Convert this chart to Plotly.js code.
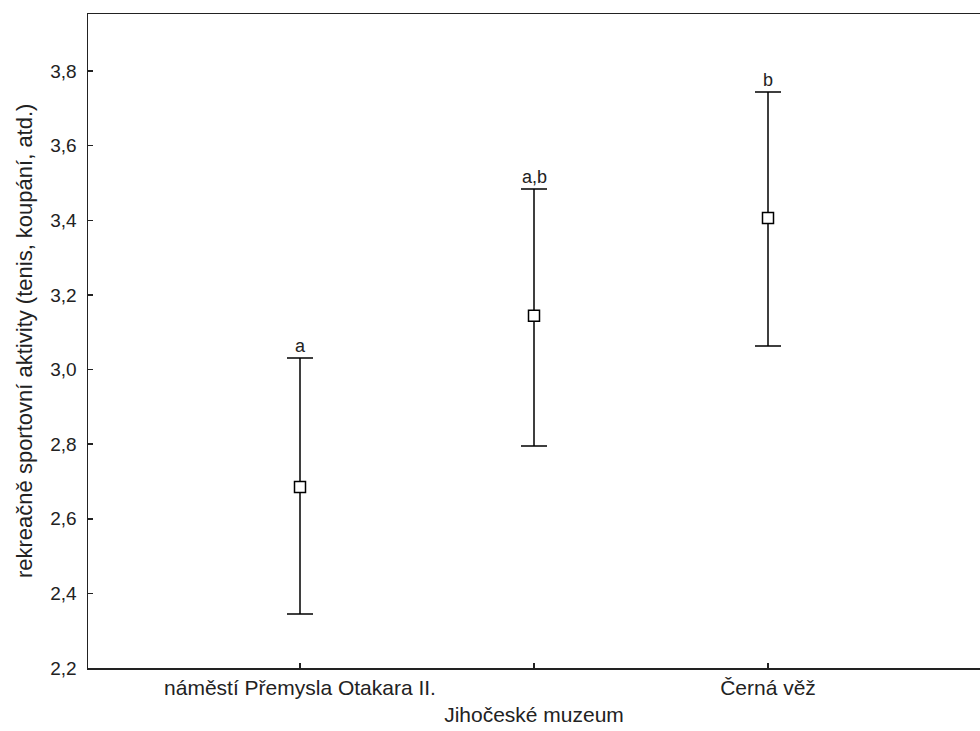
<!DOCTYPE html>
<html>
<head>
<meta charset="utf-8">
<script src="https://cdn.plot.ly/plotly-3.0.1.min.js"></script>
<style>html,body{margin:0;padding:0;background:#fff;}#chart{width:980px;height:731px;}</style>
</head>
<body>
<div id="chart"></div>
<script>
const categories = ['náměstí Přemysla Otakara II.', 'Jihočeské muzeum', 'Černá věž'];
const tickLabels = ['náměstí Přemysla Otakara II.', '<br>Jihočeské muzeum', 'Černá věž'];
const means = [2.685, 3.144, 3.406];
const upper = [3.031, 3.484, 3.744];
const lower = [2.345, 2.795, 3.063];
const letters = ['a', 'a,b', 'b'];
const yTicks = [2.2, 2.4, 2.6, 2.8, 3.0, 3.2, 3.4, 3.6, 3.8];
const yTitle = 'rekreačně sportovní aktivity (tenis, koupání, atd.)';

const xPos = categories.map((c, i) => i);
const font = 'Liberation Sans, Arial, sans-serif';

const trace = {
  type: 'scatter',
  mode: 'markers',
  x: xPos,
  y: means,
  marker: {symbol: 'square', size: 11, color: '#ffffff', line: {color: '#000000', width: 1.5}},
  error_y: {
    type: 'data', symmetric: false,
    array: upper.map((u, i) => u - means[i]),
    arrayminus: lower.map((l, i) => means[i] - l),
    color: '#000000', thickness: 1.5, width: 13
  },
  hoverinfo: 'none'
};

const annotations = letters.map((t, i) => ({
  x: xPos[i], y: upper[i], xref: 'x', yref: 'y', text: t, showarrow: false,
  yanchor: 'bottom', yshift: 0, font: {family: font, size: 18, color: '#222'}
}));
annotations.push({
  xref: 'paper', yref: 'paper', x: -0.0717, y: 0.5, xanchor: 'center', yanchor: 'middle',
  text: yTitle, textangle: -90, showarrow: false,
  font: {family: font, size: 22, color: '#222'}
});

const layout = {
  width: 980, height: 731,
  margin: {l: 88, r: 0, t: 14, b: 63, pad: 0},
  paper_bgcolor: '#ffffff', plot_bgcolor: '#ffffff',
  separators: ', ',
  showlegend: false,
  font: {family: font, size: 20, color: '#222'},
  xaxis: {
    range: [-0.906, 2.906], tickmode: 'array', tickvals: xPos, ticktext: tickLabels,
    showgrid: false, zeroline: false, showline: true, mirror: true,
    linecolor: '#222', linewidth: 1.5, ticks: 'inside', ticklen: 5, tickwidth: 1.5, tickcolor: '#222',
    tickfont: {family: font, size: 21, color: '#222'}, tickangle: 0
  },
  yaxis: {
    range: [2.2, 3.953], tickmode: 'array', tickvals: yTicks, tickformat: '.1f',
    showgrid: false, zeroline: false, showline: true, mirror: false,
    linecolor: '#222', linewidth: 1.5, ticks: 'inside', ticklen: 5, tickwidth: 1.5, tickcolor: '#222',
    tickfont: {family: font, size: 19, color: '#222'}, ticklabelstandoff: 6
  },
  annotations: annotations
};

Plotly.newPlot('chart', [trace], layout, {staticPlot: true, displayModeBar: false});
</script>
</body>
</html>
